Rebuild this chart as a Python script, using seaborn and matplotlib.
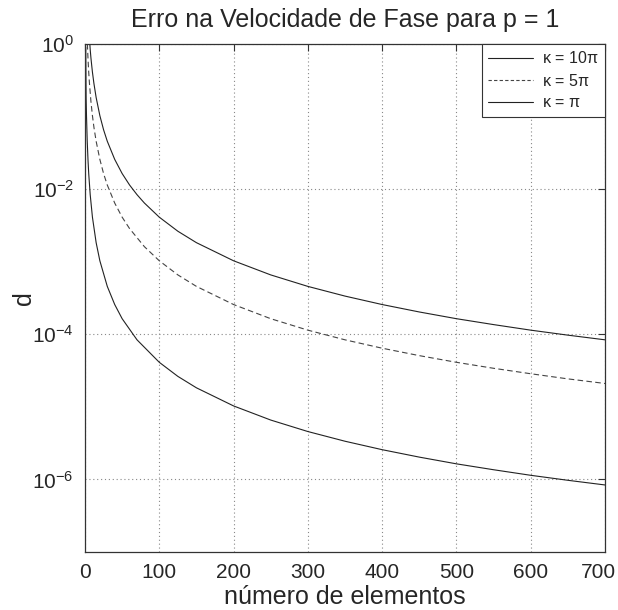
import numpy as np
import pandas as pd
import matplotlib
matplotlib.use("Agg")
import matplotlib.pyplot as plt
import matplotlib.transforms as mtransforms
import seaborn as sns
from matplotlib.ticker import FixedLocator, FuncFormatter, NullLocator

# ---- data ----
n_10pi = [6.5, 7, 8, 9, 10, 12, 15, 20, 25, 30, 40, 50, 60, 70, 80, 100, 125, 150,
          200, 250, 300, 350, 400, 450, 500, 550, 600, 650, 700]
d_10pi = [1.0, 0.84, 0.64, 0.51, 0.41, 0.286, 0.183, 0.103, 0.0658, 0.0457, 0.0257,
          0.0164, 0.0114, 0.00839, 0.00643, 0.00411, 0.00263, 0.00183, 0.00103,
          0.000658, 0.000457, 0.000336, 0.000257, 0.000203, 0.000164, 0.000136,
          0.000114, 9.73e-5, 8.39e-5]

n_5pi = [3.2, 3.5, 4, 5, 6, 8, 10, 12, 15, 20, 25, 30, 40, 50, 60, 80, 100, 125, 150,
         200, 250, 300, 350, 400, 450, 500, 550, 600, 650, 700]
d_5pi = [1.0, 0.84, 0.64, 0.41, 0.286, 0.161, 0.103, 0.0714, 0.0457, 0.0257, 0.0164,
         0.0114, 0.00643, 0.00411, 0.00286, 0.00161, 0.00103, 0.000658, 0.000457,
         0.000257, 0.000164, 0.000114, 8.39e-5, 6.43e-5, 5.08e-5, 4.11e-5, 3.40e-5,
         2.86e-5, 2.43e-5, 2.10e-5]

n_pi = [1, 1.5, 2, 3, 4, 5, 7, 10, 15, 20, 30, 40, 50, 70, 100, 125, 150, 200, 250,
        300, 350, 400, 450, 500, 550, 600, 650, 700]
d_pi = [0.9, 0.18, 0.103, 0.0457, 0.0257, 0.0164, 0.0084, 0.00411, 0.00183, 0.00103,
        0.000457, 0.000257, 0.000164, 8.39e-5, 4.11e-5, 2.63e-5, 1.83e-5, 1.03e-5,
        6.58e-6, 4.57e-6, 3.36e-6, 2.57e-6, 2.03e-6, 1.64e-6, 1.36e-6, 1.14e-6,
        9.73e-7, 8.39e-7]

labels = [r"$\kappa$ = 10$\pi$", r"$\kappa$ = 5$\pi$", r"$\kappa$ = $\pi$"]
x_ticks = [0, 100, 200, 300, 400, 500, 600, 700]
y_ticks = [1e0, 1e-2, 1e-4, 1e-6]

# ---- styling ----
sns.set_theme(style="white")
plt.rcParams["font.family"] = ["Liberation Sans", "DejaVu Sans"]
plt.rcParams["mathtext.fontset"] = "custom"
plt.rcParams["mathtext.rm"] = "Liberation Sans"
plt.rcParams["mathtext.it"] = "Liberation Sans"
plt.rcParams["mathtext.default"] = "regular"

fig = plt.figure(figsize=(6.18, 6.10), dpi=100)
ax = fig.add_axes([85 / 618, 1 - 552 / 610, 520 / 618, 508 / 610])

df1 = pd.DataFrame({"n": n_10pi, "d": d_10pi})
df2 = pd.DataFrame({"n": n_5pi, "d": d_5pi})
df3 = pd.DataFrame({"n": n_pi, "d": d_pi})

sns.lineplot(data=df1, x="n", y="d", ax=ax, color="#222222", lw=0.8,
             label=labels[0], sort=False, estimator=None)
sns.lineplot(data=df2, x="n", y="d", ax=ax, color="#444444", lw=0.8,
             label=labels[1], sort=False, estimator=None)
ax.lines[-1].set_linestyle((0, (5, 3)))
sns.lineplot(data=df3, x="n", y="d", ax=ax, color="#222222", lw=0.8,
             label=labels[2], sort=False, estimator=None)

ax.set_yscale("log")
ax.set_xlim(0, 700)
ax.set_ylim(1e-7, 1e0)
ax.xaxis.set_major_locator(FixedLocator(x_ticks))
ax.yaxis.set_major_locator(FixedLocator(y_ticks))
ax.yaxis.set_minor_locator(NullLocator())
ax.yaxis.set_major_formatter(FuncFormatter(
    lambda v, p: r"10$^{%d}$" % int(round(np.log10(v)))))

ax.grid(True, which="major", color="#888888", linestyle=(0, (1, 2.5)), lw=0.8)
ax.tick_params(axis="both", which="major", direction="in", length=5, width=0.8,
               top=True, right=True, labelsize=15, color="#333333", pad=8)
for s in ax.spines.values():
    s.set_color("#333333")
    s.set_linewidth(0.9)

ax.set_title("Erro na Velocidade de Fase para p = 1", fontsize=18, pad=12)
ax.set_xlabel("número de elementos", fontsize=18, labelpad=2)
ax.set_ylabel("d", fontsize=18)
ax.yaxis.set_label_coords(-0.095, 0.5)

leg = ax.legend(loc="upper right", fontsize=11.5, frameon=True, fancybox=False,
                borderaxespad=0, handlelength=2.8, handletextpad=0.6,
                borderpad=0.4, labelspacing=0.4)
leg.get_frame().set_edgecolor("#333333")
leg.get_frame().set_linewidth(0.8)
leg.get_frame().set_alpha(1)
leg.get_lines()[1].set_linestyle((0, (3, 2)))

# keep the last x tick label ("700") inside the figure
fig.canvas.draw()
last_tick = ax.xaxis.get_major_ticks()[-1]
last_tick.label1.set_transform(last_tick.label1.get_transform() +
                               mtransforms.ScaledTranslation(-0.07, 0, fig.dpi_scale_trans))

fig.savefig("out.png", dpi=100)
